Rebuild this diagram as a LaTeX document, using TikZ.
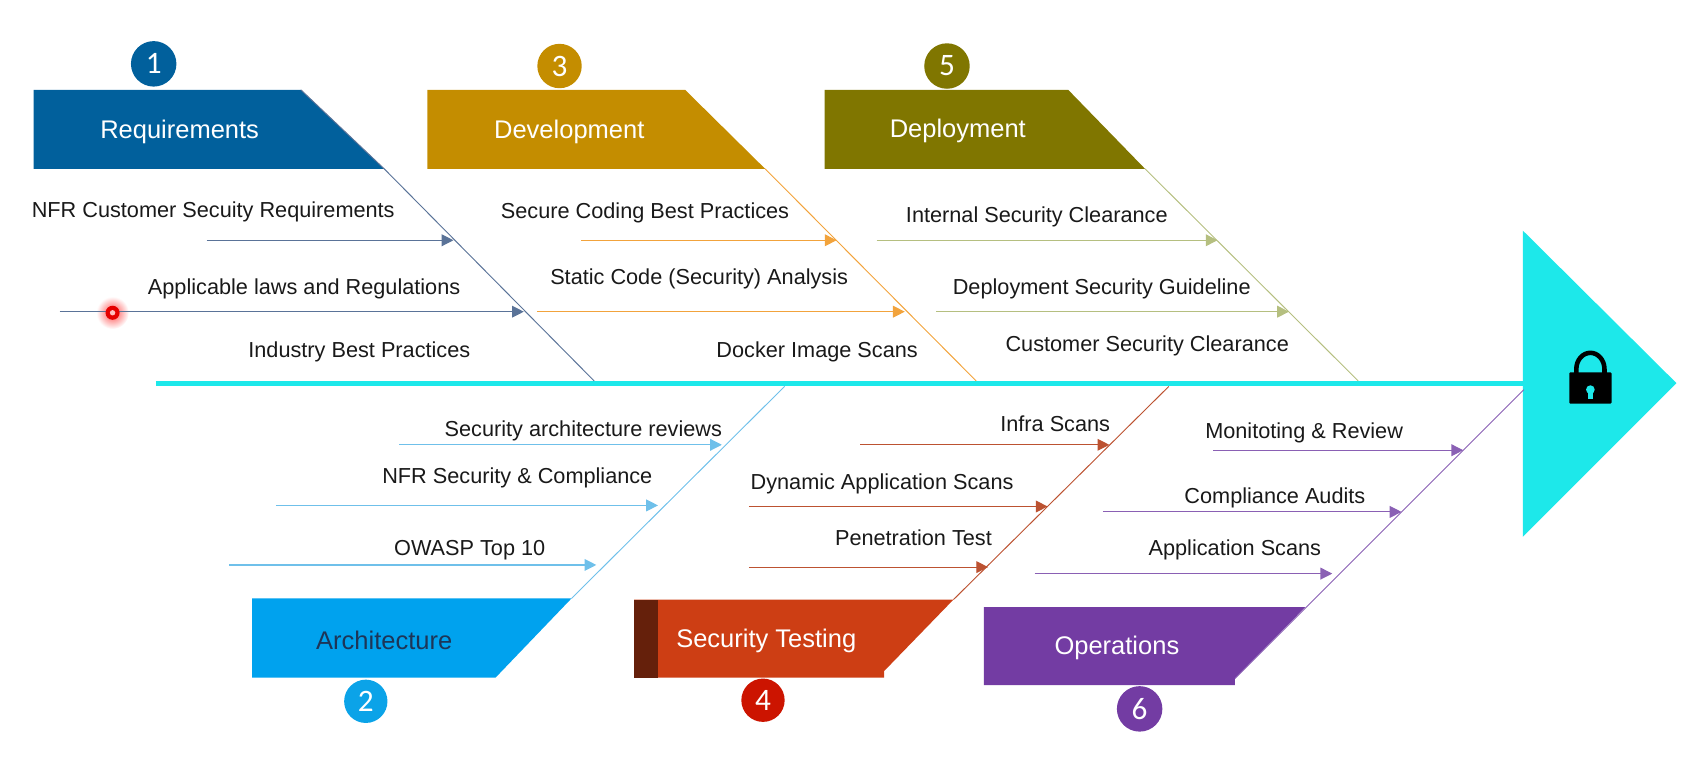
\documentclass[tikz,border=0pt]{standalone}
\usepackage{fontspec}
\setmainfont{Liberation Sans}
\newfontfamily\numfont{Carlito}
\usetikzlibrary{arrows.meta}
\definecolor{cReq}{HTML}{01609C}
\definecolor{cDev}{HTML}{C48D00}
\definecolor{cDep}{HTML}{807600}
\definecolor{cArc}{HTML}{00A2EE}
\definecolor{cSec}{HTML}{CD3E14}
\definecolor{cSecD}{HTML}{65200B}
\definecolor{cOps}{HTML}{733CA3}
\definecolor{cFish}{HTML}{1DE8EA}
\definecolor{lReq}{HTML}{5A7398}
\definecolor{lDev}{HTML}{F2A33C}
\definecolor{lDep}{HTML}{B5BF80}
\definecolor{lArc}{HTML}{6FC0EA}
\definecolor{lSec}{HTML}{BC5231}
\definecolor{lOps}{HTML}{8A60B4}
\definecolor{cNum2}{HTML}{0BA3E8}
\definecolor{cNum4}{HTML}{CC1400}
\definecolor{cDark}{HTML}{1D3557}
\tikzset{
  x=0.01cm,y=-0.01cm,
  lbl/.style={inner sep=0,font=\fontsize{5.7}{7}\selectfont,text=black!90},
  ttl/.style={inner sep=0,font=\fontsize{6.7}{8}\selectfont,text=white},
  num/.style={circle,inner sep=0,minimum size=#1,text=white,font=\numfont\fontsize{8.2}{9}\selectfont},
  bone/.style={line width=0.25pt},
  twig/.style={line width=0.3pt,-{Triangle[length=3.1pt,width=3.1pt]}},
}
\begin{document}
\begin{tikzpicture}
\useasboundingbox (0,0) rectangle (1568,709);
% free ends
\coordinate (spL) at (144,354.5); \coordinate (spR) at (1408,354.5);
\coordinate (b1a) at (278,83);  \coordinate (b1c) at (355,156); \coordinate (b1b) at (549,352);
\coordinate (b3a) at (707,156);  \coordinate (b3b) at (902,352);
\coordinate (b5a) at (1058,156);  \coordinate (b5b) at (1255,352);
\coordinate (b2a) at (528,553); \coordinate (b2b) at (725,357);
\coordinate (b4a) at (881,554); \coordinate (b4b) at (1080,357);
\coordinate (b6a) at (1141,627);\coordinate (b6b) at (1408,360);
% spine and head
\draw[cFish,line width=1.4pt] (spL) -- (spR);
\fill[cFish] (1407,213) -- (1549,354) -- (1407,496) -- cycle;
% lock
\draw[black,line width=1.2pt] (1456.5,350) -- (1456.5,341) arc[start angle=180,end angle=0,x radius=13,y radius=-15] -- (1482.5,350);
\fill[black,rounded corners=0.3pt] (1450,344) rectangle (1489,373);
\fill[cFish] (1469.5,360) circle[radius=4];
\fill[cFish] (1467.5,361) rectangle (1471.5,369);
% banners
\fill[cReq] (31,83) -- (278,83) -- (355,156) -- (31,156) -- cycle;
\fill[cDev] (395,83) -- (633,83) -- (707,156) -- (395,156) -- cycle;
\fill[cDep] (762,83) -- (987,83) -- (1058,156) -- (762,156) -- cycle;
\fill[cArc] (233,553) -- (528,553) -- (458,626) -- (233,626) -- cycle;
\fill[cSec] (586,554) -- (881,554) -- (817,620) -- (817,626) -- (586,626) -- cycle;
\fill[cSecD] (586,554) rectangle (608,626);
\fill[cOps] (909,561) -- (1206,561) -- (1141,627) -- (1141,633) -- (909,633) -- cycle;
% bones
\draw[lReq,bone] (b1a) -- (b1c) -- (b1b);
\draw[lDev,bone] (b3a) -- (b3b);
\draw[lDep,bone] (b5a) -- (b5b);
\draw[lArc,bone] (b2a) -- (b2b);
\draw[lSec,bone] (b4a) -- (b4b);
\draw[lOps,bone] (b6a) -- (b6b);
% banner titles
\node[ttl] (tReq) at (166,122) {Requirements};
\node[ttl] (tDev) at (526,122) {Development};
\node[ttl] (tDep) at (885,121) {Deployment};
\node[ttl,text=cDark] (tArc) at (355,592) {Architecture};
\node[ttl] (tSec) at (708,592) {Security Testing};
\node[ttl] (tOps) at (1032,599) {Operations};
% number badges
\node[num=0.42cm,fill=cReq] (n1) at (142,59) {1};
\node[num=0.41cm,fill=cDev] (n3) at (517,61) {3};
\node[num=0.42cm,fill=cDep] (n5) at (875,61) {5};
\node[num=0.40cm,fill=cNum2] (n2) at (338,648) {2};
\node[num=0.40cm,fill=cNum4] (n4) at (705,647) {4};
\node[num=0.42cm,fill=cOps] (n6) at (1053,655) {6};
% pointer glow
\shade[inner color=red!70,outer color=white,draw=none] (104,289) circle[radius=15];
% twig ends
\coordinate (a1) at (191,222);  \coordinate (e1) at (419,222);
\coordinate (a2) at (55,288);   \coordinate (e2) at (484,288);
\coordinate (a3) at (537,222);  \coordinate (e3) at (773,222);
\coordinate (a4) at (496,288);  \coordinate (e4) at (836,288);
\coordinate (a5) at (810,222);  \coordinate (e5) at (1125,222);
\coordinate (a6) at (865,288);  \coordinate (e6) at (1191,288);
\coordinate (a7) at (369,411);  \coordinate (e7) at (667,411);
\coordinate (a8) at (255,467);  \coordinate (e8) at (608,467);
\coordinate (a9) at (212,522);  \coordinate (e9) at (551,522);
\coordinate (a10) at (795,411); \coordinate (e10) at (1025,411);
\coordinate (a11) at (692,468); \coordinate (e11) at (968,468);
\coordinate (a12) at (692,524); \coordinate (e12) at (913,524);
\coordinate (a13) at (1121,416);\coordinate (e13) at (1352,416);
\coordinate (a14) at (1019,473);\coordinate (e14) at (1295,473);
\coordinate (a15) at (956,530); \coordinate (e15) at (1231,530);
\draw[lReq,twig] (a1) -- (e1);
\draw[lReq,twig] (a2) -- (e2);
\draw[lDev,twig] (a3) -- (e3);
\draw[lDev,twig] (a4) -- (e4);
\draw[lDep,twig] (a5) -- (e5);
\draw[lDep,twig] (a6) -- (e6);
\draw[lArc,twig] (a7) -- (e7);
\draw[lArc,twig] (a8) -- (e8);
\draw[lArc,twig] (a9) -- (e9);
\draw[lSec,twig] (a10) -- (e10);
\draw[lSec,twig] (a11) -- (e11);
\draw[lSec,twig] (a12) -- (e12);
\draw[lOps,twig] (a13) -- (e13);
\draw[lOps,twig] (a14) -- (e14);
\draw[lOps,twig] (a15) -- (e15);
% labels
\node[lbl] (l1) at (197,196) {NFR Customer Secuity Requirements};
\node[lbl] (l2) at (281,267) {Applicable laws and Regulations};
\node[lbl] (l3) at (332,325) {Industry Best Practices};
\node[lbl] (l4) at (596,197) {Secure Coding Best Practices};
\node[lbl] (l5) at (646,258) {Static Code (Security) Analysis};
\node[lbl] (l6) at (755,325) {Docker Image Scans};
\node[lbl] (l7) at (958,200) {Internal Security Clearance};
\node[lbl] (l8) at (1018,267) {Deployment Security Guideline};
\node[lbl] (l9) at (1060,320) {Customer Security Clearance};
\node[lbl] (l10) at (539,398) {Security architecture reviews};
\node[lbl] (l11) at (478,442) {NFR Security \& Compliance};
\node[lbl] (l12) at (434,508) {OWASP Top 10};
\node[lbl] (l13) at (975,392) {Infra Scans};
\node[lbl] (l14) at (815,447) {Dynamic Application Scans};
\node[lbl] (l15) at (844,497) {Penetration Test};
\node[lbl] (l16) at (1205,400) {Monitoting \& Review};
\node[lbl] (l17) at (1178,460) {Compliance Audits};
\node[lbl] (l18) at (1141,508) {Application Scans};
% pointer dot
\fill[red!90!black] (104,289) circle[radius=6.5];
\fill[red!25] (104,289) circle[radius=2.5];
\end{tikzpicture}
\end{document}
